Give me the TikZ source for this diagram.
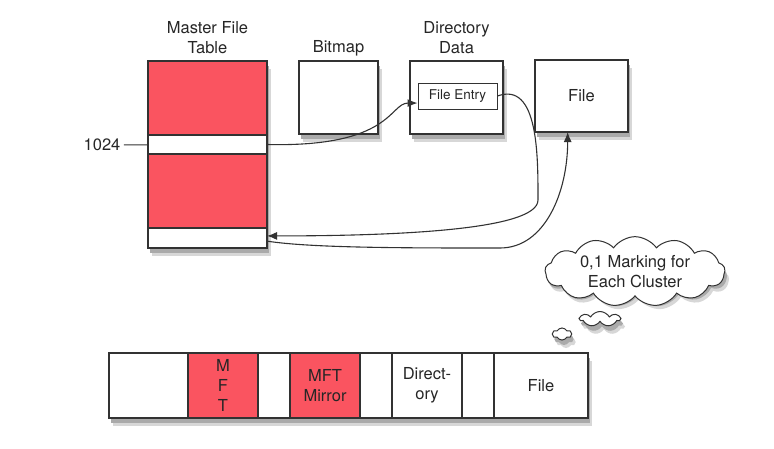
\documentclass[tikz,border=0pt]{standalone}
\usepackage{fontspec}
\setmainfont{TeX Gyre Heros}
\usetikzlibrary{positioning,shapes.symbols,arrows.meta}
\definecolor{mftred}{RGB}{250,84,96}
\definecolor{edgegray}{RGB}{50,50,50}
\definecolor{shadowgray}{RGB}{170,170,170}
\definecolor{halogray}{RGB}{215,215,215}
\begin{document}
\begin{tikzpicture}[x=1pt,y=1pt,
		font=\fontsize{16.5}{20}\selectfont, text=black!85,
		blk/.style={draw=edgegray,line width=1.1pt,fill=white,inner sep=0pt,outer sep=0pt,align=center},
		redblk/.style={blk,fill=mftred},
		cell/.style={blk,minimum height=65pt},
		redcell/.style={cell,fill=mftred},
		lbl/.style={align=center},
		puff/.style={cloud,draw=edgegray,line width=1pt,fill=white,inner sep=0pt},
		notecloud/.style={cloud,inner sep=0pt,cloud puffs=13,cloud puff arc=110,aspect=3,minimum width=180pt,minimum height=61pt},
		bigpuff/.style={cloud,inner sep=0pt,cloud puffs=7,cloud puff arc=120,aspect=2.8,minimum width=40pt,minimum height=15pt},
		smallpuff/.style={cloud,inner sep=0pt,cloud puffs=6,cloud puff arc=120,aspect=1.6,minimum width=19pt,minimum height=12pt},
		link/.style={draw=edgegray,line width=1.1pt,-{Latex[length=10pt,width=8pt]}}]
		\useasboundingbox (0,0) rectangle (774,-448);
		% shadows first
		\foreach \sx/\sy/\tone in {4/-8/halogray,2/-5/shadowgray} {
			\begin{scope}[shift={(\sx,\sy)}]
				\fill[\tone] (148,-61) rectangle (267,-248);
				\fill[\tone] (299,-61) rectangle (378,-134);
				\fill[\tone] (410,-61) rectangle (503,-134);
				\fill[\tone] (535,-60) rectangle (628,-132);
				\fill[\tone] (109,-353) rectangle (588,-418);
				\node[notecloud,fill=\tone] at (635,-271.5) {};
				\node[bigpuff,fill=\tone] at (600,-319) {};
				\node[smallpuff,fill=\tone] at (562,-334) {};
			\end{scope}
		}
		% master file table column
		\node[redblk,minimum width=119pt,minimum height=74pt] (mfttop) at (207.5,-98) {};
		\node[blk,minimum width=119pt,minimum height=19pt,below=0pt of mfttop] (mftslot) {};
		\node[redblk,minimum width=119pt,minimum height=74pt,below=0pt of mftslot] (mftmid) {};
		\node[blk,minimum width=119pt,minimum height=20pt,below=0pt of mftmid] (mftlast) {};
		\node[lbl] (mftlbl) at (207.5,-38) {Master File\\Table};
		\node[lbl] (lbl1024) at (102,-145) {1024};
		\draw[edgegray,line width=1pt] (lbl1024) -- (mftslot);
		% bitmap, directory, file
		\node[blk,minimum width=79pt,minimum height=73pt] (bitmap) at (338.5,-97.5) {};
		\node[lbl] (bitmaplbl) at (338.5,-48) {Bitmap};
		\node[blk,minimum width=93pt,minimum height=73pt] (dirdata) at (456.5,-97.5) {};
		\node[lbl] (dirlbl) at (456.5,-38) {Directory\\Data};
		\node[draw=edgegray,line width=1pt,fill=white,inner sep=0pt,minimum width=79pt,minimum height=26pt,
			font=\fontsize{13.5}{16}\selectfont] (fentry) at (457.5,-96) {File Entry};
		\node[blk,minimum width=93pt,minimum height=72pt] (file) at (581.5,-96) {File};
		% links
		\coordinate (benddir) at (538,-200);
		\coordinate (bendfile) at (500,-248);
		\draw[link] (mftslot.east) .. controls +(125,-3) and +(-28,0) .. (fentry.190);
		\draw[link] (fentry.east) to[out=20,in=90] (benddir) .. controls +(0,-30) and +(130,0) .. (mftlast.2);
		\draw[link] (mftlast.-3) .. controls +(45,-7) and +(-90,0) .. (bendfile) .. controls +(45,0) and +(0,-60) .. (file.-111);
		% thought cloud
		\node[puff,notecloud,align=center] (cloudnote) at (635,-271.5) {0,1 Marking for\\Each Cluster};
		\node[puff,bigpuff] (puffbig) at (600,-319) {};
		\node[puff,smallpuff] (puffsmall) at (562,-334) {};
		% disk layout
		\node[cell,minimum width=79pt,anchor=west] (seg1) at (109,-385.5) {};
		\node[redcell,minimum width=70pt,right=0pt of seg1] (segmft) {M\\F\\T};
		\node[cell,minimum width=32pt,right=0pt of segmft] (seg3) {};
		\node[redcell,minimum width=70pt,right=0pt of seg3] (segmirror) {MFT\\Mirror};
		\node[cell,minimum width=32pt,right=0pt of segmirror] (seg5) {};
		\node[cell,minimum width=70pt,right=0pt of seg5] (segdir) {Direct-\\ory};
		\node[cell,minimum width=32pt,right=0pt of segdir] (seg7) {};
		\node[cell,minimum width=94pt,right=0pt of seg7] (segfile) {File};
		\end{tikzpicture}
\end{document}
